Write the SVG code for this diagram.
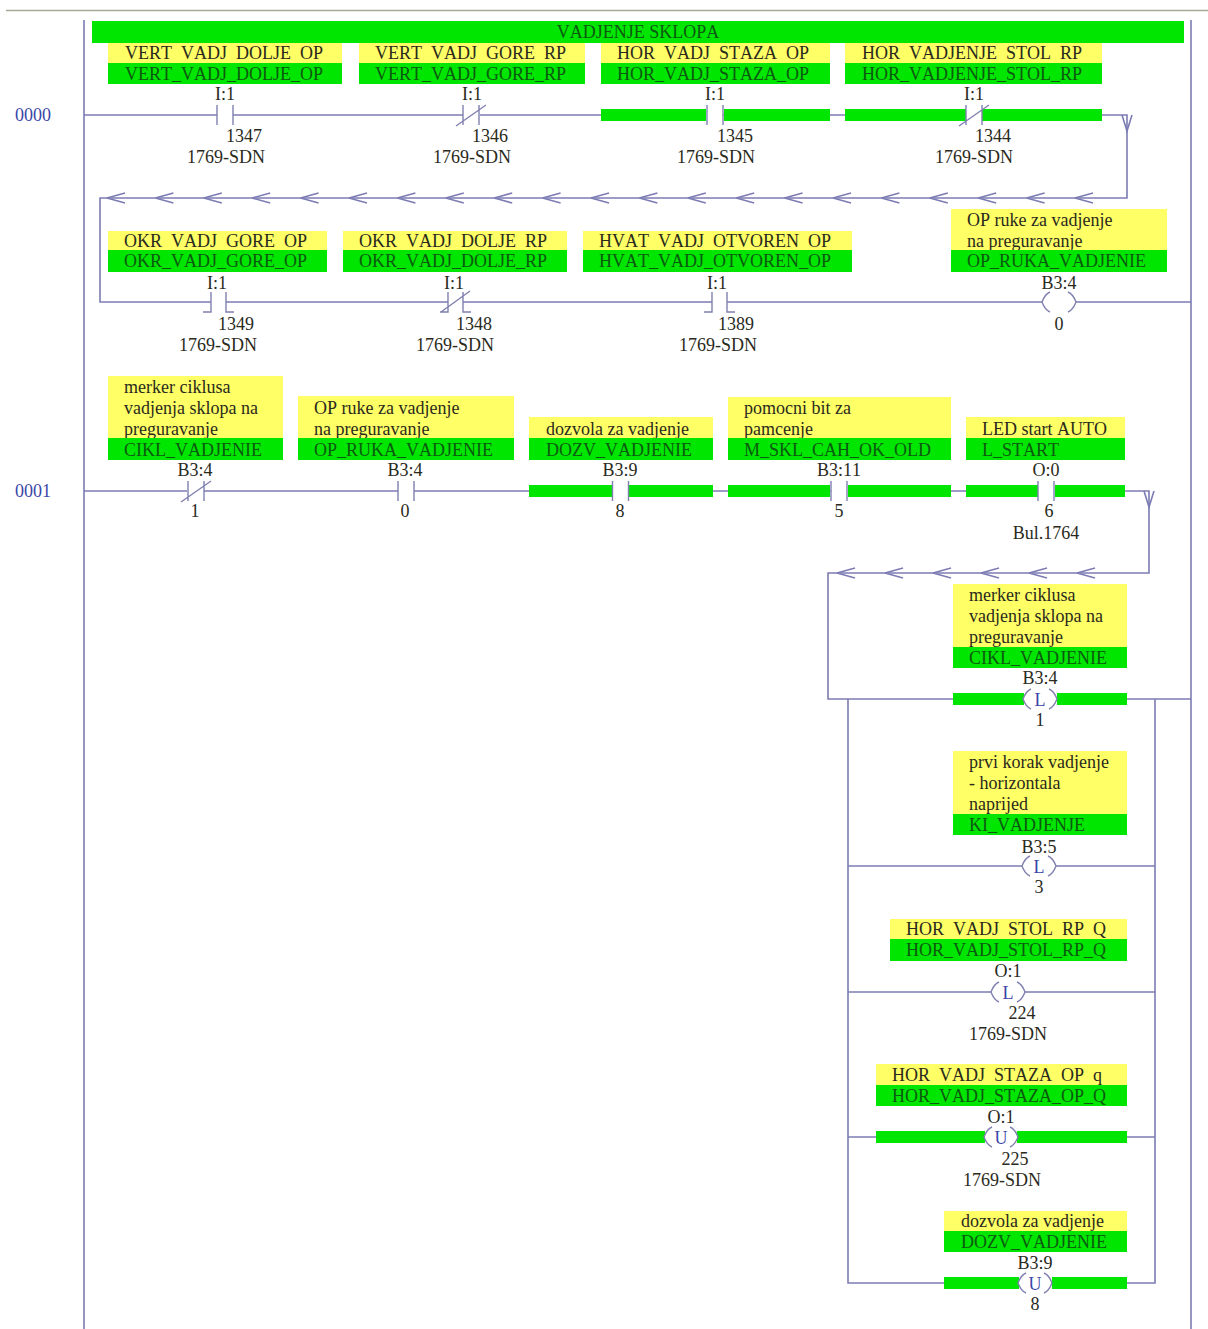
<svg xmlns="http://www.w3.org/2000/svg" width="1208" height="1329" viewBox="0 0 1208 1329">
<style>
text{font-family:"Liberation Serif","Times New Roman",serif;font-size:18px;fill:#2a2a1c;font-kerning:none;transform:translateY(1px)}
.c{text-anchor:middle}
.rn{fill:#3a46a8}
.cl{fill:#3a46a8;text-anchor:middle;font-size:18px}
.y{fill:#ffff66}
.g{fill:#00e600}
.gt{fill:#0c5a10}
.ys{word-spacing:4.5px}
.w{fill:none;stroke:#7c7cb4;stroke-width:1.6}
.s{fill:none;stroke:#8080b0;stroke-width:1.4}
.top{fill:none;stroke:#a8a898;stroke-width:1.4}
</style>
<defs>
<g id="no"><path class="s" d="M-8,-10V10M8,-10V10"/></g>
<g id="nc"><path class="s" d="M-8,-10V10M8,-10V10M-15,11L15,-10"/></g>
<g id="nof"><path class="s" d="M-7,-10V10H-15M8,-10V10H16"/></g>
<g id="ncf"><path class="s" d="M-7,-10V10H-15M8,-10V10H16M-14,10L15,-11"/></g>
<g id="coil"><path class="s" d="M-9,-10Q-14,-8 -17,0Q-14,8 -9,10M9,-10Q14,-8 17,0Q14,8 9,10"/></g>
<path id="al" class="w" d="M0,0L18,-5M0,0L18,5"/>
<path id="ad" class="w" d="M-5,0L0,16L5,0"/>
</defs>
<rect width="1208" height="1329" fill="#fff"/>
<g id="connectors">
<path class="top" d="M6,10.500H1208"/>
<path class="w" d="M84,20V1329M1191,20V1329"/>
<path class="w" d="M84,115H217M233,115H463M480,115H706M723,115H966M982,115H1127V198H100V302H211M226,302H448M463,302H712M727,302H1042M1076,302H1191"/>
<path class="w" d="M84,491H187M204,491H398M414,491H612M629,491H831M848,491H1038M1055,491H1149V573H828V699H1023M1057,699H1191"/>
<path class="w" d="M848,699V1283H1018M1052,1283H1155V699"/>
<path class="w" d="M848,866H1022M1056,866H1155M848,992H991M1025,992H1155M848,1137H984M1018,1137H1155"/>
<use href="#ad" x="1127" y="115"/><use href="#ad" x="1149" y="491"/>
<use href="#al" x="107" y="198"/><use href="#al" x="155.400" y="198"/><use href="#al" x="203.800" y="198"/><use href="#al" x="252.200" y="198"/><use href="#al" x="300.600" y="198"/><use href="#al" x="349" y="198"/><use href="#al" x="397.400" y="198"/><use href="#al" x="445.800" y="198"/><use href="#al" x="494.200" y="198"/><use href="#al" x="542.600" y="198"/><use href="#al" x="591" y="198"/><use href="#al" x="639.400" y="198"/><use href="#al" x="687.800" y="198"/><use href="#al" x="736.200" y="198"/><use href="#al" x="784.600" y="198"/><use href="#al" x="833" y="198"/><use href="#al" x="881.400" y="198"/><use href="#al" x="929.800" y="198"/><use href="#al" x="978.200" y="198"/><use href="#al" x="1026.600" y="198"/><use href="#al" x="1075" y="198"/>
<use href="#al" x="837" y="573"/><use href="#al" x="885" y="573"/><use href="#al" x="933" y="573"/><use href="#al" x="981" y="573"/><use href="#al" x="1029" y="573"/><use href="#al" x="1077" y="573"/>
</g>
<g id="title"><rect class="g" x="92" y="21" width="1092" height="22"/><text class="c gt" x="638" y="37">VADJENJE SKLOPA</text></g>
<g id="rung0"><text class="rn" x="15" y="120">0000</text></g>
<g id="rung1"><text class="rn" x="15" y="496">0001</text></g>

<g id="c1347"><rect class="y" x="108" y="43" width="234" height="21"/><text class="ys" x="125" y="58">VERT VADJ DOLJE OP</text><rect class="g" x="108" y="63" width="234" height="21"/><text class="gt" x="125" y="79">VERT_VADJ_DOLJE_OP</text><text class="c" x="225" y="99">I:1</text><use href="#no" x="225" y="115"/><text class="c" x="244" y="141">1347</text><text class="c" x="226" y="162">1769-SDN</text></g>
<g id="c1346"><rect class="y" x="359" y="43" width="226" height="21"/><text class="ys" x="375" y="58">VERT VADJ GORE RP</text><rect class="g" x="359" y="63" width="226" height="21"/><text class="gt" x="375" y="79">VERT_VADJ_GORE_RP</text><text class="c" x="472" y="99">I:1</text><use href="#nc" x="471" y="115"/><text class="c" x="490" y="141">1346</text><text class="c" x="472" y="162">1769-SDN</text></g>
<g id="c1345"><rect class="y" x="601" y="43" width="229" height="21"/><text class="ys" x="617" y="58">HOR VADJ STAZA OP</text><rect class="g" x="601" y="63" width="229" height="21"/><text class="gt" x="617" y="79">HOR_VADJ_STAZA_OP</text><text class="c" x="715" y="99">I:1</text><rect class="g" x="601" y="109" width="105" height="12"/><rect class="g" x="724" y="109" width="106" height="12"/><use href="#no" x="715" y="115"/><text class="c" x="735" y="141">1345</text><text class="c" x="716" y="162">1769-SDN</text></g>
<g id="c1344"><rect class="y" x="845" y="43" width="257" height="21"/><text class="ys" x="862" y="58">HOR VADJENJE STOL RP</text><rect class="g" x="845" y="63" width="257" height="21"/><text class="gt" x="862" y="79">HOR_VADJENJE_STOL_RP</text><text class="c" x="974" y="99">I:1</text><rect class="g" x="845" y="109" width="121" height="12"/><rect class="g" x="982" y="109" width="120" height="12"/><use href="#nc" x="974" y="115"/><text class="c" x="993" y="141">1344</text><text class="c" x="974" y="162">1769-SDN</text></g>

<g id="c1349"><rect class="y" x="108" y="231" width="219" height="20"/><text class="ys" x="124" y="246">OKR VADJ GORE OP</text><rect class="g" x="108" y="250" width="219" height="22"/><text class="gt" x="124" y="266">OKR_VADJ_GORE_OP</text><text class="c" x="217" y="288">I:1</text><use href="#nof" x="218" y="302"/><text class="c" x="236" y="329">1349</text><text class="c" x="218" y="350">1769-SDN</text></g>
<g id="c1348"><rect class="y" x="343" y="231" width="224" height="20"/><text class="ys" x="359" y="246">OKR VADJ DOLJE RP</text><rect class="g" x="343" y="250" width="224" height="22"/><text class="gt" x="359" y="266">OKR_VADJ_DOLJE_RP</text><text class="c" x="454" y="288">I:1</text><use href="#ncf" x="455" y="302"/><text class="c" x="474" y="329">1348</text><text class="c" x="455" y="350">1769-SDN</text></g>
<g id="c1389"><rect class="y" x="583" y="231" width="269" height="20"/><text class="ys" x="599" y="246">HVAT VADJ OTVOREN OP</text><rect class="g" x="583" y="250" width="269" height="22"/><text class="gt" x="599" y="266">HVAT_VADJ_OTVOREN_OP</text><text class="c" x="717" y="288">I:1</text><use href="#nof" x="719" y="302"/><text class="c" x="736" y="329">1389</text><text class="c" x="718" y="350">1769-SDN</text></g>
<g id="coilB340"><rect class="y" x="951" y="209" width="216" height="42"/><text x="967" y="225">OP ruke za vadjenje</text><text x="967" y="246">na preguravanje</text><rect class="g" x="951" y="250" width="216" height="22"/><text class="gt" x="967" y="266">OP_RUKA_VADJENIE</text><text class="c" x="1059" y="288">B3:4</text><use href="#coil" x="1059" y="302"/><text class="c" x="1059" y="329">0</text></g>

<g id="cB341"><rect class="y" x="108" y="376" width="175" height="63"/><text x="124" y="392">merker ciklusa</text><text x="124" y="413">vadjenja sklopa na</text><text x="124" y="434">preguravanje</text><rect class="g" x="108" y="438" width="175" height="22"/><text class="gt" x="124" y="455">CIKL_VADJENIE</text><text class="c" x="195" y="475">B3:4</text><use href="#nc" x="196" y="491"/><text class="c" x="195" y="516">1</text></g>
<g id="cB340"><rect class="y" x="298" y="396" width="216" height="43"/><text x="314" y="413">OP ruke za vadjenje</text><text x="314" y="434">na preguravanje</text><rect class="g" x="298" y="438" width="216" height="22"/><text class="gt" x="314" y="455">OP_RUKA_VADJENIE</text><text class="c" x="405" y="475">B3:4</text><use href="#no" x="406" y="491"/><text class="c" x="405" y="516">0</text></g>
<g id="cB398"><rect class="y" x="529" y="417" width="184" height="22"/><text x="546" y="434">dozvola za vadjenje</text><rect class="g" x="529" y="438" width="184" height="22"/><text class="gt" x="546" y="455">DOZV_VADJENIE</text><text class="c" x="620" y="475">B3:9</text><rect class="g" x="529" y="485" width="83" height="12"/><rect class="g" x="629" y="485" width="84" height="12"/><use href="#no" x="620.500" y="491"/><text class="c" x="620" y="516">8</text></g>
<g id="cB3115"><rect class="y" x="728" y="397" width="223" height="42"/><text x="744" y="413">pomocni bit za</text><text x="744" y="434">pamcenje</text><rect class="g" x="728" y="438" width="223" height="22"/><text class="gt" x="744" y="455">M_SKL_CAH_OK_OLD</text><text class="c" x="839" y="475">B3:11</text><rect class="g" x="728" y="485" width="102" height="12"/><rect class="g" x="848" y="485" width="103" height="12"/><use href="#no" x="839" y="491"/><text class="c" x="839" y="516">5</text></g>
<g id="cO06"><rect class="y" x="966" y="417" width="159" height="22"/><text x="982" y="434">LED start AUTO</text><rect class="g" x="966" y="438" width="159" height="22"/><text class="gt" x="982" y="455">L_START</text><text class="c" x="1046" y="475">O:0</text><rect class="g" x="966" y="485" width="72" height="12"/><rect class="g" x="1055" y="485" width="70" height="12"/><use href="#no" x="1046" y="491"/><text class="c" x="1049" y="516">6</text><text class="c" x="1046" y="538">Bul.1764</text></g>

<g id="lB341"><rect class="y" x="953" y="584" width="174" height="64"/><text x="969" y="600">merker ciklusa</text><text x="969" y="621">vadjenja sklopa na</text><text x="969" y="642">preguravanje</text><rect class="g" x="953" y="647" width="174" height="21"/><text class="gt" x="969" y="663">CIKL_VADJENIE</text><text class="c" x="1040" y="683">B3:4</text><rect class="g" x="953" y="693" width="71" height="12"/><rect class="g" x="1057" y="693" width="70" height="12"/><use href="#coil" x="1040" y="699"/><text class="cl" x="1040" y="705">L</text><text class="c" x="1040" y="725">1</text></g>
<g id="lB353"><rect class="y" x="953" y="751" width="174" height="64"/><text x="969" y="767">prvi korak vadjenje</text><text x="969" y="788">- horizontala</text><text x="969" y="809">naprijed</text><rect class="g" x="953" y="814" width="174" height="21"/><text class="gt" x="969" y="830">KI_VADJENJE</text><text class="c" x="1039" y="852">B3:5</text><use href="#coil" x="1039" y="866"/><text class="cl" x="1039" y="872">L</text><text class="c" x="1039" y="892">3</text></g>
<g id="lO1224"><rect class="y" x="890" y="919" width="237" height="21"/><text class="ys" x="906" y="934">HOR VADJ STOL RP Q</text><rect class="g" x="890" y="939" width="237" height="22"/><text class="gt" x="906" y="955">HOR_VADJ_STOL_RP_Q</text><text class="c" x="1008" y="976">O:1</text><use href="#coil" x="1008" y="992"/><text class="cl" x="1008" y="998">L</text><text class="c" x="1022" y="1018">224</text><text class="c" x="1008" y="1039">1769-SDN</text></g>
<g id="uO1225"><rect class="y" x="876" y="1064" width="251" height="21"/><text class="ys" x="892" y="1080">HOR VADJ STAZA OP q</text><rect class="g" x="876" y="1085" width="251" height="21"/><text class="gt" x="892" y="1101">HOR_VADJ_STAZA_OP_Q</text><text class="c" x="1001" y="1122">O:1</text><rect class="g" x="876" y="1131" width="109" height="12"/><rect class="g" x="1017" y="1131" width="110" height="12"/><use href="#coil" x="1001" y="1137"/><text class="cl" x="1001" y="1143">U</text><text class="c" x="1015" y="1164">225</text><text class="c" x="1002" y="1185">1769-SDN</text></g>
<g id="uB398"><rect class="y" x="944" y="1211" width="183" height="21"/><text x="961" y="1226">dozvola za vadjenje</text><rect class="g" x="944" y="1231" width="183" height="21"/><text class="gt" x="961" y="1247">DOZV_VADJENIE</text><text class="c" x="1035" y="1268">B3:9</text><rect class="g" x="944" y="1277" width="75" height="12"/><rect class="g" x="1052" y="1277" width="75" height="12"/><use href="#coil" x="1035" y="1283"/><text class="cl" x="1035" y="1289">U</text><text class="c" x="1035" y="1309">8</text></g>
</svg>
